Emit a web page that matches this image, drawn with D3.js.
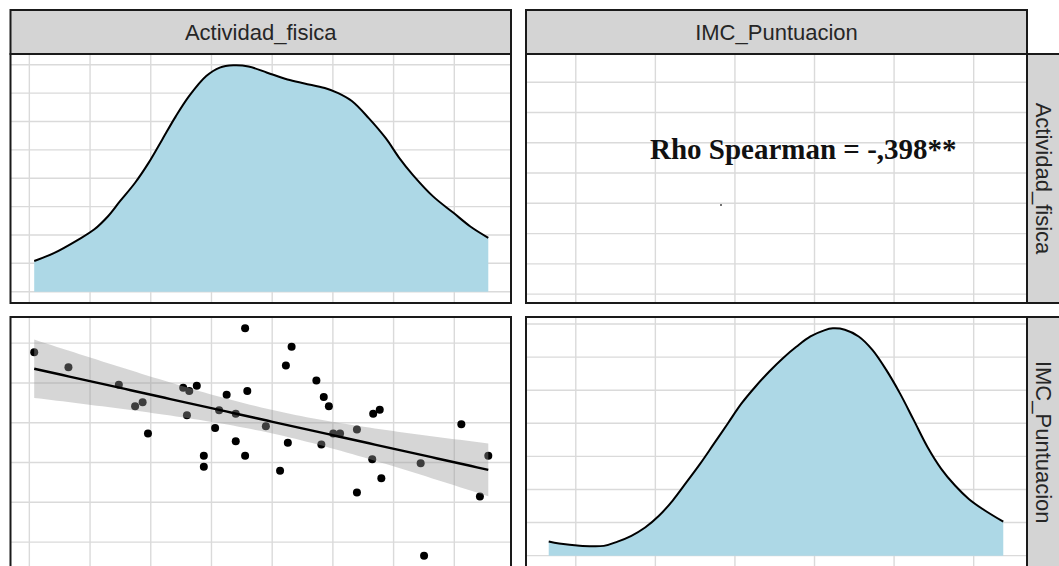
<!DOCTYPE html>
<html>
<head>
<meta charset="utf-8">
<script src="https://cdn.jsdelivr.net/npm/d3@7"></script>
<style>
  body{margin:0;background:#fff;}
  svg{display:block;}
</style>
</head>
<body>
<svg id="chart" width="1059" height="566"></svg>
<script>
"use strict";
//----------------------------------------
//Data
var varNames = ["Actividad_fisica", "IMC_Puntuacion"];

//kernel density of Actividad_fisica
var actDensX = [1.040,1.202,1.397,1.536,1.648,1.745,1.871,1.982,2.094,2.206,2.317,2.457,2.568,2.680,2.805,
                2.959,3.126,3.266,3.433,3.544,3.656,3.795,3.934,4.046,4.158,4.325,4.493,4.632,4.780];
var actDensY = [0.054,0.068,0.091,0.110,0.133,0.159,0.192,0.227,0.268,0.309,0.345,0.380,0.395,0.399,0.397,
                0.386,0.374,0.367,0.359,0.350,0.336,0.306,0.271,0.236,0.206,0.168,0.139,0.115,0.095];

//kernel density of IMC_Puntuacion
var imcDensX = [14.150,14.474,15.123,15.881,16.313,16.747,17.178,17.613,18.044,18.479,18.910,19.341,19.776,
                20.207,20.641,21.072,21.507,21.938,22.373,22.804,23.075,23.452,23.887,24.318,24.753,25.184,
                25.618,26.049,26.481,26.915,27.346,27.781,28.430];
var imcDensY = [0.0085,0.0073,0.0060,0.0059,0.0085,0.0120,0.0170,0.0241,0.0333,0.0444,0.0556,0.0677,0.0799,
                0.0920,0.1021,0.1112,0.1194,0.1264,0.1325,0.1362,0.1374,0.1366,0.1325,0.1244,0.1123,0.0981,
                0.0819,0.0657,0.0525,0.0424,0.0343,0.0282,0.0205];

//raw observations for the scatter panel
var actValues = [1.040,1.322,1.737,1.871,1.933,1.977,2.267,2.317,2.379,2.298,2.437,2.437,2.530,2.563,2.625,
                 2.700,2.700,2.777,2.777,2.795,2.948,3.065,3.113,3.129,3.160,3.364,3.405,3.425,3.467,3.503,
                 3.559,3.698,3.698,3.824,3.832,3.886,3.899,4.223,4.251,4.558,4.711,4.780];
var imcValues = [26.93,25.99,24.89,23.53,23.78,21.82,24.70,24.49,24.83,22.97,20.42,19.73,22.17,23.28,24.26,
                 23.07,21.34,28.43,20.42,24.49,22.28,19.48,26.09,21.24,27.28,25.16,21.14,24.11,23.53,21.82,
                 21.82,22.07,18.11,20.20,23.07,23.32,19.01,19.95,14.15,22.41,17.86,20.42];

//grid breaks
var actBreaks = [1, 1.5, 2, 2.5, 3, 3.5, 4, 4.5];
var imcBreaks = [15, 17.5, 20, 22.5, 25, 27.5];
var actDensBreaks = [0, 0.05, 0.1, 0.15, 0.2, 0.25, 0.3, 0.35, 0.4];
var imcDensBreaks = [0, 0.02, 0.04, 0.06, 0.08, 0.1, 0.12, 0.14];

var corLabel = "Rho Spearman = -,398**";

//----------------------------------------
//Layout
var cols = [{x0: 10.5, x1: 511}, {x0: 526, x1: 1027}],
    rows = [{y0: 54, y1: 303}, {y0: 317, y1: 567.5}],
    stripTop = 10,
    colours = {
        strip: "#d4d4d4",
        border: "#1a1a1a",
        grid: "#dadada",
        fill: "#add8e6",
        text: "#262626"
    };

var svg = d3.select("#chart");

//ggplot style 5% expansion
var expand = function(ext){
    var r = ext[1] - ext[0];
    return [ext[0] - r * 0.05, ext[1] + r * 0.05];
};

var actExtent = d3.extent(actValues),
    imcExtent = d3.extent(imcValues);

var xScales = [
    d3.scaleLinear().domain(expand(actExtent)).range([cols[0].x0 + 1, cols[0].x1]),
    d3.scaleLinear().domain(expand(imcExtent)).range([cols[1].x0, cols[1].x1 - 1])
];
var yScales = [
    d3.scaleLinear().domain(expand(actExtent)).range([rows[0].y1, rows[0].y0]),
    d3.scaleLinear().domain(expand(imcExtent)).range([rows[1].y1 - 0.5, rows[1].y0])
];

//----------------------------------------
//Helper functions

//Create a panel group with a clip path and white background
var makePanel = function(ci, ri){
    var c = cols[ci], r = rows[ri], id = "clip" + ci + ri;
    svg.append("clipPath").attr("id", id)
        .append("rect")
        .attr("x", c.x0).attr("y", r.y0)
        .attr("width", c.x1 - c.x0).attr("height", r.y1 - r.y0);
    var g = svg.append("g").attr("clip-path", "url(#" + id + ")");
    g.append("rect")
        .attr("x", c.x0).attr("y", r.y0)
        .attr("width", c.x1 - c.x0).attr("height", r.y1 - r.y0)
        .style("fill", "#fff");
    return g;
};

var drawGrid = function(g, ci, ri, xScale, xBreaks, yScale, yBreaks){
    var c = cols[ci], r = rows[ri];
    g.selectAll(null).data(xBreaks).enter()
        .append("line")
        .attr("x1", d => xScale(d)).attr("x2", d => xScale(d))
        .attr("y1", r.y0).attr("y2", r.y1)
        .style("stroke", colours.grid).style("stroke-width", 1.4);
    g.selectAll(null).data(yBreaks).enter()
        .append("line")
        .attr("y1", d => yScale(d)).attr("y2", d => yScale(d))
        .attr("x1", c.x0).attr("x2", c.x1)
        .style("stroke", colours.grid).style("stroke-width", 1.4);
};

var drawBorder = function(ci, ri){
    var c = cols[ci], r = rows[ri];
    svg.append("rect")
        .attr("x", c.x0).attr("y", r.y0)
        .attr("width", c.x1 - c.x0).attr("height", r.y1 - r.y0)
        .style("fill", "none")
        .style("stroke", colours.border)
        .style("stroke-width", 2);
};

var drawDensity = function(ci, ri, xs, ys, yBreaks){
    var xScale = xScales[ci],
        y1 = ri === 1 ? rows[ri].y1 - 0.5 : rows[ri].y1,
        yScale = d3.scaleLinear().domain(expand([0, d3.max(ys)])).range([y1, rows[ri].y0]),
        pts = xs.map((d, i) => [d, ys[i]]),
        g = makePanel(ci, ri);
    drawGrid(g, ci, ri, xScale, ri === 0 ? actBreaks : imcBreaks, yScale, yBreaks);
    g.append("path")
        .datum(pts)
        .attr("d", d3.area().curve(d3.curveCatmullRom)
              .x(d => xScale(d[0])).y0(yScale(0)).y1(d => yScale(d[1])))
        .style("fill", colours.fill);
    g.append("path")
        .datum(pts)
        .attr("d", d3.line().curve(d3.curveCatmullRom)
              .x(d => xScale(d[0])).y(d => yScale(d[1])))
        .style("fill", "none")
        .style("stroke", "#000")
        .style("stroke-width", 2);
    drawBorder(ci, ri);
};

//Ordinary least squares with 95% confidence band
var linearFit = function(xs, ys){
    var n = xs.length,
        mx = d3.mean(xs), my = d3.mean(ys),
        sxx = d3.sum(xs, x => (x - mx) * (x - mx)),
        sxy = d3.sum(xs, (x, i) => (x - mx) * (ys[i] - my)),
        b = sxy / sxx,
        a = my - b * mx,
        rss = d3.sum(xs, (x, i) => Math.pow(ys[i] - (a + b * x), 2)),
        s = Math.sqrt(rss / (n - 2)),
        tCrit = 2.021,
        ext = d3.extent(xs),
        out = [];
    for(var k = 0; k <= 80; k++){
        var x = ext[0] + (ext[1] - ext[0]) * k / 80,
            fit = a + b * x,
            se = s * Math.sqrt(1 / n + (x - mx) * (x - mx) / sxx);
        out.push({x: x, fit: fit, lo: fit - tCrit * se, hi: fit + tCrit * se});
    }
    return out;
};

//----------------------------------------
//Top-left: density of Actividad_fisica
drawDensity(0, 0, actDensX, actDensY, actDensBreaks);

//Top-right: correlation text
(function(){
    var g = makePanel(1, 0);
    drawGrid(g, 1, 0, xScales[1], imcBreaks, yScales[0], actBreaks);
    g.append("circle")
        .attr("cx", cols[1].x0 + 195).attr("cy", rows[0].y0 + 151)
        .attr("r", 1).style("fill", "#444");
    g.append("text")
        .attr("x", cols[1].x0 + 124)
        .attr("y", rows[0].y0 + 105)
        .style("font-family", "'Liberation Serif', 'Times New Roman', serif")
        .style("font-weight", "bold")
        .style("font-size", "29px")
        .style("fill", "#111")
        .text(corLabel);
    drawBorder(1, 0);
})();

//Bottom-left: scatter with linear fit
(function(){
    var xScale = xScales[0], yScale = yScales[1],
        g = makePanel(0, 1),
        fit = linearFit(actValues, imcValues);
    drawGrid(g, 0, 1, xScale, actBreaks, yScale, imcBreaks);
    g.selectAll(null).data(actValues).enter()
        .append("circle")
        .attr("cx", d => xScale(d))
        .attr("cy", (d, i) => yScale(imcValues[i]))
        .attr("r", 4)
        .style("fill", "#000");
    g.append("path")
        .datum(fit)
        .attr("d", d3.area().x(d => xScale(d.x)).y0(d => yScale(d.lo)).y1(d => yScale(d.hi)))
        .style("fill", "#999999")
        .style("fill-opacity", 0.4);
    g.append("path")
        .datum(fit)
        .attr("d", d3.line().x(d => xScale(d.x)).y(d => yScale(d.fit)))
        .style("fill", "none")
        .style("stroke", "#000")
        .style("stroke-width", 2.4);
    drawBorder(0, 1);
})();

//Bottom-right: density of IMC_Puntuacion
drawDensity(1, 1, imcDensX, imcDensY, imcDensBreaks);

//----------------------------------------
//Strips
cols.forEach(function(c, i){
    svg.append("rect")
        .attr("x", c.x0).attr("y", stripTop)
        .attr("width", c.x1 - c.x0).attr("height", rows[0].y0 - stripTop)
        .style("fill", colours.strip)
        .style("stroke", colours.border)
        .style("stroke-width", 2);
    svg.append("text")
        .attr("x", (c.x0 + c.x1) / 2)
        .attr("y", (stripTop + rows[0].y0) / 2)
        .attr("dy", "0.36em")
        .style("text-anchor", "middle")
        .style("font-family", "'Liberation Sans', Arial, sans-serif")
        .style("font-size", "22px")
        .style("fill", colours.text)
        .text(varNames[i]);
});

rows.forEach(function(r, i){
    var x0 = cols[1].x1;
    svg.append("rect")
        .attr("x", x0).attr("y", r.y0)
        .attr("width", 50).attr("height", r.y1 - r.y0)
        .style("fill", colours.strip)
        .style("stroke", colours.border)
        .style("stroke-width", 2);
    svg.append("text")
        .attr("transform", "translate(" + (x0 + 17) + "," + ((r.y0 + r.y1) / 2) + ") rotate(90)")
        .attr("dy", "0.36em")
        .style("text-anchor", "middle")
        .style("font-family", "'Liberation Sans', Arial, sans-serif")
        .style("font-size", "22px")
        .style("fill", colours.text)
        .text(varNames[i]);
});
</script>
</body>
</html>
